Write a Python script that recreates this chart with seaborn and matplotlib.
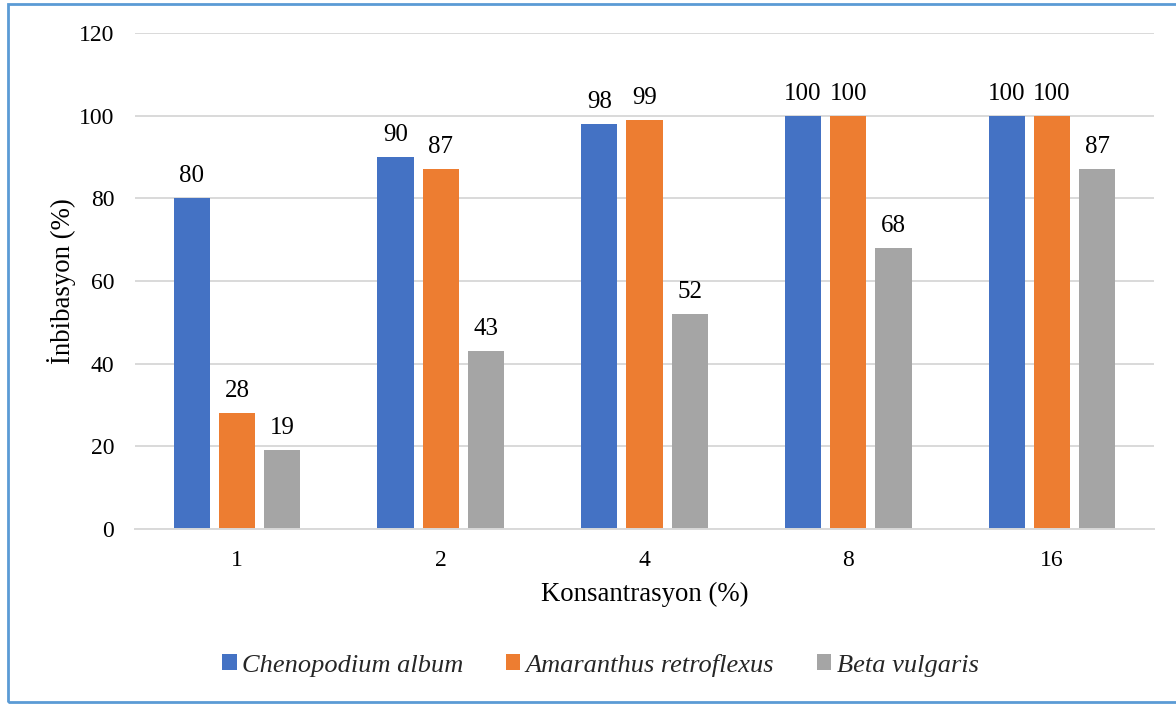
import matplotlib
matplotlib.use('Agg')
import matplotlib.pyplot as plt
import pandas as pd
import seaborn as sns
from matplotlib.patches import Rectangle

# Data
concentrations = ['1', '2', '4', '8', '16']
species = ['Chenopodium album', 'Amaranthus retroflexus', 'Beta vulgaris']
chenopodium = [80, 90, 98, 100, 100]
amaranthus = [28, 87, 99, 100, 100]
beta = [19, 43, 52, 68, 87]
colors = ['#4472C4', '#ED7D31', '#A5A5A5']

df = pd.DataFrame({
    'konsantrasyon': concentrations * 3,
    'tur': [s for s in species for _ in concentrations],
    'deger': chenopodium + amaranthus + beta,
})

sns.set_theme(style='white')
plt.rcParams['font.family'] = ['Liberation Serif', 'DejaVu Serif']
plt.rcParams['font.size'] = 17

fig = plt.figure(figsize=(11.76, 7.04), dpi=100)
ax = fig.add_axes([0.1148, 0.2486, 0.8665, 0.7045])

sns.barplot(data=df, x='konsantrasyon', y='deger', hue='tur', order=concentrations,
            hue_order=species, palette=colors, width=0.666, gap=0.2,
            errorbar=None, saturation=1, linewidth=0, ax=ax, legend=True)

for cont in ax.containers:
    ax.bar_label(cont, padding=8, fontsize=18, color='#000000')

ax.set_ylim(0, 120)
ax.set_xlim(-0.5, 4.5)
ax.set_yticks(range(0, 121, 20))
ax.yaxis.grid(True, color='#D9D9D9', linewidth=1.4)
ax.set_axisbelow(True)
for side in ['left', 'right', 'top']:
    ax.spines[side].set_visible(False)
ax.spines['bottom'].set_color('#D9D9D9')
ax.spines['bottom'].set_linewidth(1.4)
ax.tick_params(axis='both', length=0, labelsize=17, colors='#000000')
ax.tick_params(axis='y', pad=15)
ax.tick_params(axis='x', pad=15)

ax.set_xlabel('Konsantrasyon (%)', fontsize=19.3, labelpad=8, color='#000000')
ax.set_ylabel('İnbibasyon (%)', fontsize=19.3, labelpad=2, color='#000000')

handles, labels = ax.get_legend_handles_labels()
ax.legend_.remove()
fig.legend(handles, labels, loc='center', bbox_to_anchor=(0.5105, 0.055), ncol=3,
           frameon=False, prop={'family': 'Liberation Serif', 'style': 'italic', 'size': 19},
           handlelength=0.55, handleheight=0.55, handletextpad=0.2, columnspacing=1.62)

# frame around the chart
fig.patches.append(Rectangle((8 / 1176, 2 / 704), 1.1, 698 / 704, transform=fig.transFigure,
                             fill=False, edgecolor='#5B9BD5', linewidth=2))

fig.savefig('out.png', dpi=100)
